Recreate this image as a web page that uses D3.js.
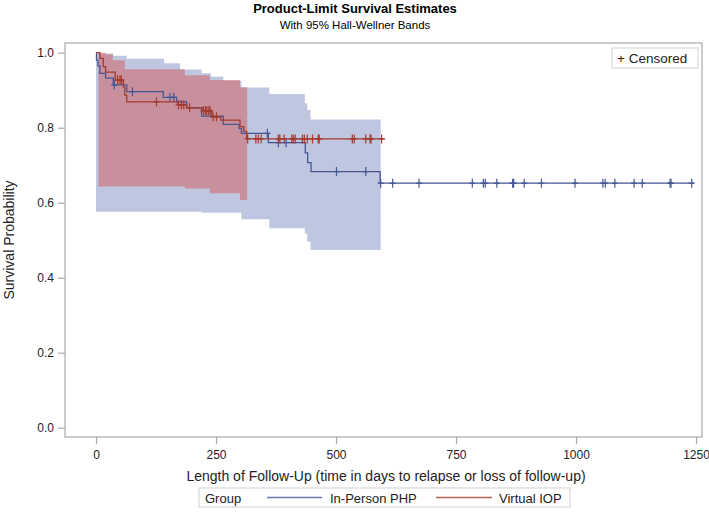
<!DOCTYPE html>
<html>
<head>
<meta charset="utf-8">
<script src="https://cdn.jsdelivr.net/npm/d3@7"></script>
<style>
  body { margin: 0; background: #fff; }
  svg { font-family: "Liberation Sans", Arial, sans-serif; }
</style>
</head>
<body>
<svg id="chart" width="709" height="526"></svg>
<script>
// Kaplan-Meier steps: [day, survival after the drop]
const phpSteps = [[0,1],[1,0.98],[4,0.965],[8,0.945],[20,0.932],[36,0.914],[64,0.896],[140,0.881],
  [168,0.869],[189,0.853],[220,0.831],[265,0.809],[298,0.798],[303,0.785],[359,0.76],
  [436,0.733],[441,0.707],[448,0.683],[592,0.652]];
const phpEnd = 1246;
const phpCensor = [38,76,154,162,357,380,396,501,562,593,618,673,784,807,811,835,868,870,
  892,928,998,1056,1061,1081,1121,1138,1196,1198,1241];

const iopSteps = [[0,1],[8,0.985],[15,0.963],[20,0.948],[40,0.927],[57,0.908],[60,0.887],
  [64,0.869],[170,0.861],[189,0.853],[221,0.845],[241,0.829],[260,0.82],[300,0.803],
  [308,0.79],[314,0.77]];
const iopEnd = 602;
const iopCensor = [45,50,53,126,172,178,183,195,224,228,231,235,238,244,251,316,333,338,344,
  380,383,392,408,411,415,430,434,440,451,463,465,534,538,562,571,573,595];

// Hall-Wellner bands: [day, lower, upper]
const phpBand = [[0,0.576,0.998],[36,0.576,0.992],[64,0.576,0.984],[142,0.576,0.972],
  [175,0.576,0.955],[220,0.573,0.945],[239,0.573,0.936],[265,0.573,0.925],[303,0.556,0.907],
  [361,0.532,0.89],[435,0.518,0.865],[440,0.496,0.847],[447,0.474,0.822]];
const phpBandEnd = 593;
const iopBand = [[5,0.643,1.0],[20,0.643,0.995],[35,0.643,0.98],[60,0.643,0.956],
  [185,0.638,0.94],[237,0.625,0.927],[300,0.607,0.908]];
const iopBandEnd = 315;

const xTicks = [0,250,500,750,1000,1250];
const yTicks = [0,0.2,0.4,0.6,0.8,1.0];
const groups = ["In-Person PHP","Virtual IOP"];

const blue = "#445694", red = "#A23A2E";
const svg = d3.select("#chart");
const frameL = 65, frameR = 702, frameT = 43, frameB = 437;

const x = d3.scaleLinear().domain([0,1250]).range([96,696]);
const y = d3.scaleLinear().domain([0,1]).range([427.7,52.7]);

// titles
svg.append("text").attr("x",355).attr("y",13).attr("text-anchor","middle")
  .attr("font-size",13).attr("font-weight","bold").text("Product-Limit Survival Estimates");
svg.append("text").attr("x",355).attr("y",29).attr("text-anchor","middle")
  .attr("font-size",11.5).text("With 95% Hall-Wellner Bands");

// bands
function band(rows, end) {
  const last = rows[rows.length-1];
  return d3.area().curve(d3.curveStepAfter)
    .x(d => x(d[0])).y0(d => y(d[1])).y1(d => y(d[2]))(rows.concat([[end,last[1],last[2]]]));
}
svg.append("path").attr("d", band(phpBand, phpBandEnd)).attr("fill","#7080B8").attr("fill-opacity",0.45);
svg.append("path").attr("d", band(iopBand, iopBandEnd)).attr("fill","#D06060").attr("fill-opacity",0.53);

// frame
svg.append("rect").attr("x",frameL).attr("y",frameT).attr("width",frameR-frameL).attr("height",frameB-frameT)
  .attr("fill","none").attr("stroke","#A8A8A8").attr("stroke-width",1.2);

// axes
const yAxis = svg.append("g").attr("transform",`translate(${frameL},0)`)
  .call(d3.axisLeft(y).tickValues(yTicks).tickFormat(d3.format(".1f")).tickSize(7).tickPadding(4));
const xAxis = svg.append("g").attr("transform",`translate(0,${frameB})`)
  .call(d3.axisBottom(x).tickValues(xTicks).tickFormat(d3.format("d")).tickSize(7).tickPadding(6));
[yAxis, xAxis].forEach(g => {
  g.select(".domain").remove();
  g.selectAll("line").attr("stroke","#A8A8A8").attr("stroke-width",1.2);
  g.selectAll("text").attr("font-size",12).attr("fill","#222")
    .attr("font-family","'Liberation Sans', Arial, sans-serif");
});

svg.append("text").attr("transform","translate(14,240) rotate(-90)").attr("text-anchor","middle")
  .attr("font-size",14).attr("fill","#222").text("Survival Probability");
svg.append("text").attr("x",386).attr("y",481).attr("text-anchor","middle")
  .attr("font-size",14).attr("fill","#222")
  .text("Length of Follow-Up (time in days to relapse or loss of follow-up)");

// survival curves
function steps(rows, end) {
  const last = rows[rows.length-1];
  return d3.line().curve(d3.curveStepAfter).x(d => x(d[0])).y(d => y(d[1]))(rows.concat([[end,last[1]]]));
}
function survAt(rows, t) {
  let s = 1;
  rows.forEach(d => { if (d[0] <= t) s = d[1]; });
  return s;
}
[[phpSteps, phpEnd, phpCensor, blue], [iopSteps, iopEnd, iopCensor, red]].forEach(([rows, end, cens, col]) => {
  svg.append("path").attr("d", steps(rows, end)).attr("fill","none")
    .attr("stroke", col).attr("stroke-width",1.3);
  svg.append("g").selectAll("path").data(cens).join("path")
    .attr("d", t => {
      const cx = x(t), cy = y(survAt(rows, t));
      return `M${cx},${cy-4.5}V${cy+4.5}M${cx-3},${cy}H${cx+3}`;
    })
    .attr("stroke", col).attr("stroke-width",1.2);
});

// censored legend
const cl = svg.append("g");
cl.append("rect").attr("x",612).attr("y",48).attr("width",86).attr("height",20)
  .attr("fill","#fff").attr("stroke","#D0D0D0");
cl.append("text").attr("x",617).attr("y",63).attr("font-size",13.5).attr("fill","#222").text("+ Censored");

// group legend
const lg = svg.append("g");
lg.append("rect").attr("x",199).attr("y",488).attr("width",371).attr("height",19)
  .attr("fill","#fff").attr("stroke","#D0D0D0");
lg.append("text").attr("x",205).attr("y",502.5).attr("font-size",13).attr("fill","#222").text("Group");
const items = [{name: groups[0], col: blue, x1: 267, x2: 322, tx: 330},
               {name: groups[1], col: red, x1: 436, x2: 492, tx: 499}];
items.forEach(it => {
  lg.append("line").attr("x1",it.x1).attr("x2",it.x2).attr("y1",497.5).attr("y2",497.5)
    .attr("stroke", it.col).attr("stroke-width",1.4).attr("stroke-opacity",0.8);
  lg.append("text").attr("x",it.tx).attr("y",502.5).attr("font-size",13).attr("fill","#222").text(it.name);
});
</script>
</body>
</html>
